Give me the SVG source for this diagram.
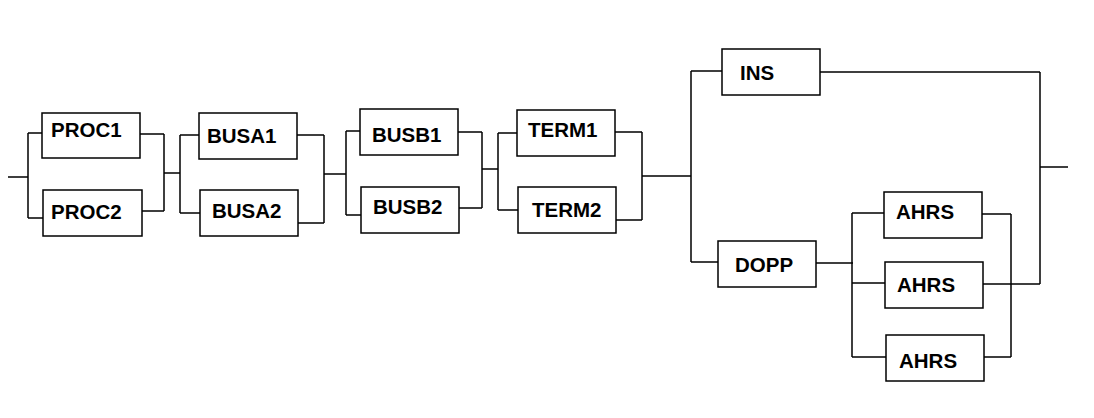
<svg xmlns="http://www.w3.org/2000/svg" width="1094" height="418" viewBox="0 0 1094 418">
<style>
.box{fill:#fff;stroke:#000;stroke-width:1.5}
.lbl{font-family:"Liberation Sans",Arial,sans-serif;font-weight:bold;font-size:20.5px;fill:#000}
.wire{fill:none;stroke:#000;stroke-width:1.5}
</style>
<rect width="1094" height="418" fill="#fff"/>
<g id="connectors" class="wire">
<path d="M8,177H28M28,133V218M28,133H42M28,218H43"/>
<path d="M140,134H164M142,211H164M164,134V211M164,173H180M180,135V213M180,135H199M180,213H200"/>
<path d="M297,135H324M298,223H324M324,135V223M324,174H346M346,131V215M346,131H360M346,215H361"/>
<path d="M458,132H482M459,208H482M482,132V208M482,169H498M498,133V210M498,133H517M498,210H518"/>
<path d="M615,132H642M616,220H642M642,132V220M642,176H691M691,71V262M691,71H722M691,262H718"/>
<path d="M820,72H1040M1040,72V284M1040,167H1068"/>
<path d="M816,263H853M852,213V357M852,213H884M852,283H885M852,357H886"/>
<path d="M982,214H1011M984,357H1011M1011,214V357M983,284H1040"/>
</g>
<g id="proc1"><rect class="box" x="42" y="113" width="98" height="45"/><text class="lbl" x="51" y="137">PROC1</text></g>
<g id="proc2"><rect class="box" x="43" y="190" width="99" height="46"/><text class="lbl" x="51" y="219">PROC2</text></g>
<g id="busa1"><rect class="box" x="199" y="113" width="98" height="46"/><text class="lbl" x="207" y="143">BUSA1</text></g>
<g id="busa2"><rect class="box" x="200" y="190" width="98" height="46"/><text class="lbl" x="212" y="218">BUSA2</text></g>
<g id="busb1"><rect class="box" x="360" y="109" width="98" height="46"/><text class="lbl" x="372" y="142">BUSB1</text></g>
<g id="busb2"><rect class="box" x="361" y="187" width="98" height="46"/><text class="lbl" x="373" y="214">BUSB2</text></g>
<g id="term1"><rect class="box" x="517" y="110" width="98" height="46"/><text class="lbl" x="528" y="137">TERM1</text></g>
<g id="term2"><rect class="box" x="518" y="187" width="98" height="46"/><text class="lbl" x="532" y="217">TERM2</text></g>
<g id="ins"><rect class="box" x="722" y="49" width="98" height="46"/><text class="lbl" x="740" y="80">INS</text></g>
<g id="dopp"><rect class="box" x="718" y="241" width="98" height="46"/><text class="lbl" x="735" y="272">DOPP</text></g>
<g id="ahrs1"><rect class="box" x="884" y="192" width="98" height="46"/><text class="lbl" x="896" y="219">AHRS</text></g>
<g id="ahrs2"><rect class="box" x="885" y="262" width="98" height="46"/><text class="lbl" x="897" y="292">AHRS</text></g>
<g id="ahrs3"><rect class="box" x="886" y="335" width="98" height="46"/><text class="lbl" x="899" y="368">AHRS</text></g>
</svg>
